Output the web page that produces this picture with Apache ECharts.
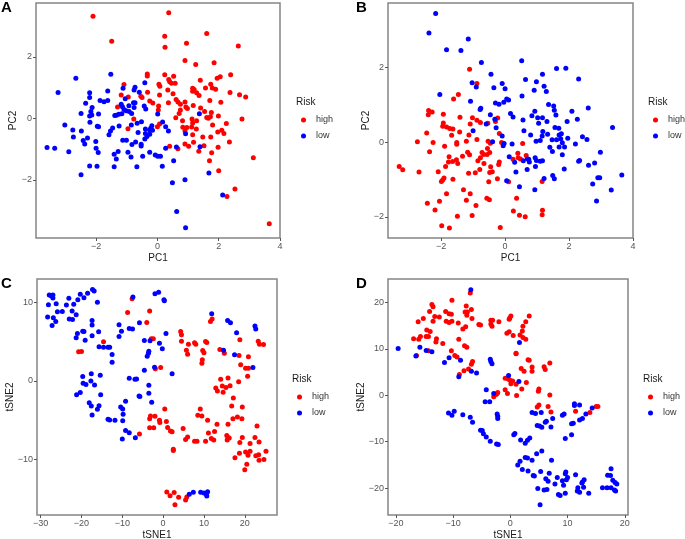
<!DOCTYPE html>
<html>
<head>
<meta charset="utf-8">
<style>html,body{margin:0;padding:0;background:#fff}#chart{width:685px;height:539px}</style>
<script src="https://cdn.jsdelivr.net/npm/echarts@6/dist/echarts.min.js"></script>
</head>
<body>
<div id="chart"></div>
<script>
// panel A, PCA
var aHigh = [[-2.10,3.32],[0.37,3.43],[-1.49,2.51],[0.24,2.67],[1.61,2.76],[0.95,2.44],[0.25,2.31],[2.64,2.35],[0.90,1.88],[1.25,1.75],[1.85,1.81],[-0.33,1.44],[-0.33,1.38],[0.24,1.42],[0.53,1.37],[2.39,1.42],[2.05,1.35],[1.95,1.30],[0.37,1.26],[0.40,1.19],[1.40,1.24],[0.46,1.14],[0.58,1.14],[-1.09,1.10],[0.05,1.11],[0.08,1.04],[1.74,1.11],[1.57,0.99],[1.79,0.99],[1.90,0.95],[1.15,0.98],[1.20,0.94],[1.15,0.88],[1.28,0.83],[1.36,0.74],[0.34,0.92],[0.51,0.80],[-0.32,0.85],[2.37,0.84],[2.68,0.77],[2.88,0.69],[-1.18,0.76],[-0.95,0.69],[-0.54,0.72],[-0.50,0.68],[0.07,0.76],[0.61,0.61],[1.71,0.58],[2.07,0.52],[-0.25,0.56],[-0.15,0.50],[0.36,0.51],[0.67,0.53],[0.75,0.46],[0.90,0.53],[1.17,0.42],[0.04,0.40],[-1.30,0.37],[0.03,0.27],[0.93,0.37],[0.98,0.32],[1.41,0.34],[0.75,0.27],[0.71,0.16],[1.54,0.22],[1.76,0.19],[1.73,0.05],[1.99,0.08],[0.60,0.02],[0.82,-0.08],[1.13,-0.02],[1.61,0.03],[1.66,0],[0.07,-0.18],[0,-0.27],[-0.77,-0.02],[-0.96,-0.34],[1.15,-0.15],[1.28,-0.08],[2.25,-0.17],[2.76,-0.02],[1.80,-0.22],[0.83,-0.29],[0.96,-0.30],[1.12,-0.28],[1.27,-0.35],[0.90,-0.41],[1.15,-0.53],[1.97,-0.44],[2.10,-0.39],[2.17,-0.49],[1.48,-0.61],[1.74,-0.61],[0.40,-0.91],[0.90,-0.83],[0.67,-0.99],[1.02,-0.91],[1.18,-0.78],[1.52,-0.89],[1.35,-1.07],[1.98,-0.94],[2.35,-0.77],[1.77,-1.12],[3.13,-1.28],[1.70,-1.38],[2.00,-1.70],[2.53,-2.30],[2.27,-2.54],[3.65,-3.43]];
var aLow = [[-1.52,1.43],[-2.66,1.30],[-3.24,0.84],[-2.21,0.83],[-2.21,0.68],[-1.62,0.89],[-1.12,0.98],[-0.73,1.01],[-0.76,0.92],[-0.41,1.16],[-0.59,0.85],[-1.05,0.64],[-1.87,0.58],[-1.74,0.54],[-1.62,0.58],[-2.34,0.49],[-0.78,0.51],[-0.73,0.51],[-1.18,0.46],[-1.14,0.38],[-0.93,0.41],[-0.76,0.35],[-0.43,0.40],[-0.38,0.30],[-2.13,0.35],[-2.17,0.22],[-2.49,0.16],[-2.14,0.11],[-2.21,0.08],[-1.92,0.14],[-1.09,0.29],[-1.02,0.25],[-0.92,0.22],[-0.84,0.16],[-1.16,0.15],[-1.26,0.13],[-1.34,0.10],[-1.39,0.09],[0.01,0.14],[1.37,0.15],[-0.52,-0.11],[-0.66,-0.16],[-0.85,-0.22],[-2.20,-0.13],[-3.02,-0.22],[-2.76,-0.38],[-1.96,-0.26],[-1.92,-0.27],[-2.48,-0.41],[-1.25,-0.25],[-1.46,-0.31],[-1.53,-0.41],[-1.58,-0.53],[-0.63,-0.46],[0.17,-0.12],[0.27,-0.27],[0.36,-0.41],[-0.18,-0.24],[-0.22,-0.32],[-0.39,-0.35],[-0.25,-0.39],[-0.16,-0.39],[-0.39,-0.49],[-0.25,-0.52],[-0.41,-0.67],[-0.34,-0.59],[0.92,-0.50],[-2.74,-0.61],[-2.28,-0.64],[-2.42,-0.72],[-2.37,-0.83],[-2.01,-0.75],[-1.13,-0.71],[-1.01,-0.71],[-0.71,-0.77],[-0.83,-0.85],[-0.53,-0.84],[-0.53,-0.90],[-3.60,-0.95],[-3.35,-0.97],[-2.00,-0.97],[-2.89,-1.09],[-1.93,-1.11],[-1.28,-1.08],[-1.41,-1.17],[-1.34,-1.32],[-0.96,-1.10],[-0.86,-1.26],[-0.25,-1.10],[-0.48,-1.23],[-0.07,-1.19],[0.01,-1.23],[0.10,-1.23],[0.27,-0.97],[0.62,-0.93],[1.39,-0.92],[-2.21,-1.55],[-1.97,-1.56],[-1.41,-1.57],[-0.67,-1.57],[0.16,-1.56],[0.53,-1.38],[-2.49,-1.83],[1.68,-1.78],[0.49,-2.09],[0.90,-2.00],[2.13,-2.49],[0.63,-3.03],[0.92,-3.56]];

// panel B, PCA
var bHigh = [[-1.11,1.94],[-0.88,1.56],[-1.46,1.27],[-1.61,1.15],[-2.39,0.84],[-2.28,0.80],[-2.40,0.73],[-1.93,0.74],[-1.41,0.66],[-1.02,0.65],[-0.23,0.64],[-0.88,0.58],[-0.77,0.52],[-0.30,0.55],[-1.93,0.51],[-1.09,0.48],[-0.54,0.50],[-1.95,0.42],[-1.83,0.40],[-1.73,0.36],[-1.63,0.35],[-1.42,0.27],[-2.45,0.24],[-1.67,0.18],[-1.13,0.19],[-0.18,0.23],[-0.88,0.07],[-2.74,0.01],[-2.25,-0.01],[-1.51,-0.01],[-1.51,-0.06],[-1.21,0.02],[-0.53,0.02],[-0.46,-0.03],[-0.11,-0.01],[0.55,-0.04],[-1.89,-0.11],[-0.55,-0.17],[-2.36,-0.26],[-1.17,-0.27],[-1.11,-0.34],[-1.33,-0.38],[-1.75,-0.39],[-0.72,-0.28],[-0.67,-0.33],[-0.56,-0.33],[-0.48,-0.28],[-0.77,-0.42],[-0.85,-0.50],[-1.77,-0.53],[-1.64,-0.52],[-1.52,-0.47],[-1.48,-0.57],[-0.66,-0.57],[-0.18,-0.53],[-0.20,-0.60],[0.40,-0.30],[0.25,-0.46],[0.41,-0.42],[0.48,-0.45],[0.66,-0.36],[-1.86,-0.65],[-3.31,-0.65],[-3.20,-0.74],[-2.69,-0.80],[-2.09,-0.79],[-0.45,-0.66],[-0.79,-0.73],[-0.40,-0.79],[-0.48,-0.81],[-1.14,-0.83],[-0.93,-0.82],[-1.91,-0.96],[-1.95,-1.01],[-1.99,-1.05],[-1.63,-0.99],[-0.24,-0.98],[-0.51,-1.06],[0.11,-1.06],[1.16,-1.05],[-1.30,-1.27],[-1.83,-1.38],[-1.09,-1.38],[-0.57,-1.50],[-0.49,-1.54],[0.36,-1.50],[-2.43,-1.63],[-2.05,-1.58],[-1.21,-1.55],[-0.91,-1.69],[-2.19,-1.81],[0.26,-1.84],[1.17,-1.82],[1.16,-1.94],[-1.03,-1.96],[0.45,-1.95],[-1.49,-1.98],[0.63,-1.99],[-1.98,-2.23],[-1.74,-2.29],[-0.15,-2.28]];
var bLow = [[-2.17,3.43],[-2.38,2.91],[-1.15,2.75],[-1.83,2.46],[-1.38,2.44],[-0.74,2.12],[0.52,2.17],[-0.44,1.81],[1.17,1.81],[1.61,1.96],[1.90,1.97],[2.30,1.68],[0.64,1.67],[0.98,1.61],[-1.03,1.58],[-0.90,1.47],[-0.35,1.45],[-0.09,1.56],[0,1.42],[1.22,1.49],[0.91,1.38],[1.29,1.35],[0.53,1.23],[-2.04,1.27],[-1.08,1.09],[0.05,1.15],[0.11,1.12],[-0.04,1.06],[-0.30,1.04],[-0.19,1.01],[-0.76,0.90],[-0.78,0.87],[1.36,1.00],[1.52,0.96],[1.54,0.85],[2.60,0.91],[2.09,0.82],[0.93,0.82],[-0.46,0.73],[0.17,0.76],[0.25,0.67],[0.84,0.70],[1.59,0.72],[1.02,0.65],[1.17,0.65],[-0.32,0.61],[0.56,0.59],[2.26,0.61],[1.31,0.55],[1.94,0.55],[1.05,0.50],[-0.59,0.48],[1.56,0.39],[1.68,0.37],[3.36,0.39],[-0.28,0.38],[-1.00,0.30],[0.59,0.30],[1.18,0.28],[0.80,0.19],[1.33,0.21],[1.16,0.16],[1.76,0.22],[1.69,0.19],[-0.09,0.16],[2.42,0.14],[1.96,0.10],[1.74,0.09],[1.47,0.06],[1.61,0.06],[2.56,0.07],[0.97,0.02],[1.10,0.04],[1.79,-0.02],[-0.39,0.01],[-0.03,-0.04],[-0.06,-0.10],[0.22,-0.05],[2.20,-0.05],[1.69,-0.13],[1.40,-0.14],[1.48,-0.25],[1.86,-0.13],[2.98,-0.27],[1.79,-0.34],[0.13,-0.39],[0.30,-0.54],[0.57,-0.50],[0.70,-0.45],[0.74,-0.46],[0.76,-0.53],[0.94,-0.42],[0.98,-0.49],[1.10,-0.51],[1.17,-0.50],[2.33,-0.49],[2.30,-0.51],[2.80,-0.56],[2.61,-0.62],[0.95,-0.65],[0.69,-0.73],[0.34,-0.80],[1.85,-0.72],[3.65,-0.88],[1.49,-0.89],[1.54,-0.98],[1.22,-0.97],[2.90,-0.95],[2.96,-0.95],[0.05,-1.03],[2.74,-1.12],[0.45,-1.19],[0.93,-1.27],[3.32,-1.28],[2.86,-1.57]];

// panel C, tSNE
var cHigh = [[-7.6,10.49],[-8.7,8.74],[-3.3,8.91],[-4.0,7.46],[11.6,7.59],[12.0,7.89],[4.3,6.31],[4.5,5.88],[4.5,5.07],[-2.9,5.37],[-2.4,5.37],[-14.6,4.99],[-20.7,3.71],[-20.0,3.75],[6.2,4.69],[7.7,4.86],[8.0,4.69],[10.4,5.03],[10.7,4.90],[5.7,3.92],[6.0,3.41],[9.7,3.88],[10.0,3.58],[9.6,2.69],[9.5,2.26],[13.9,4.01],[15.0,3.54],[18.8,5.25],[23.3,5.07],[23.6,4.69],[24.6,4.65],[18.6,3.24],[20.9,3.07],[19.0,2.05],[20.2,1.62],[20.9,1.62],[20.7,0.60],[-1.9,1.54],[-0.6,1.71],[14.1,0.21],[15.9,0.38],[18.5,-0.09],[12.9,-0.90],[13.3,-1.28],[14.5,-0.64],[14.7,-1.45],[15.4,-0.85],[16.4,-0.60],[17.2,-2.17],[16.8,-3.2],[19.4,-3.33],[9.1,-3.58],[0.4,-3.58],[8.5,-4.39],[9.5,-4.48],[-3.1,-4.48],[-3.3,-4.82],[-2.0,-4.52],[-0.9,-5.03],[-0.8,-5.29],[0.8,-5.16],[10.9,-5.03],[17.1,-4.82],[18.2,-4.6],[19.3,-4.82],[15.9,-5.54],[13.2,-5.54],[-3.3,-5.97],[-2.3,-5.97],[1.1,-5.93],[4.9,-6.06],[23.0,-5.76],[-5.8,-6.78],[1.8,-6.40],[2.2,-6.48],[12.6,-6.44],[11.1,-6.65],[15.6,-6.95],[15.9,-7.25],[16.2,-7.29],[15.7,-7.55],[19.4,-7.21],[22.5,-7.21],[6.0,-7.16],[5.5,-7.46],[11.8,-7.33],[12.4,-7.55],[7.7,-7.68],[8.3,-7.68],[10.4,-7.68],[18.8,-7.85],[23.5,-7.80],[21.3,-7.97],[2.5,-8.70],[2.5,-8.87],[21.3,-8.96],[20.2,-9.08],[25.2,-8.96],[18.7,-9.21],[20.8,-9.47],[23.4,-9.42],[22.7,-9.55],[17.6,-9.81],[23.5,-10.11],[24.7,-10.02],[20.5,-10.62],[20.0,-11.34],[0.9,-14.16],[2.7,-14.24],[1.7,-14.65],[3.8,-14.84],[5.8,-14.8],[5.5,-15.2],[2.9,-15.8]];
var cLow = [[-17.3,11.66],[-16.9,11.47],[-16.1,10.02],[-18.5,11.17],[-20.3,11.04],[-19.4,10.62],[-20.9,10.36],[-23.1,10.53],[-27.9,10.96],[-27.4,10.83],[-27.0,10.96],[-27.0,10.58],[-28.1,9.72],[-26.2,9.85],[-23.7,9.68],[-21.9,9.77],[-22.3,8.92],[-24.7,8.87],[-25.9,8.83],[-21.3,8.44],[-28.3,8.14],[-26.9,8.06],[-26.3,7.59],[-27.2,7.08],[-23.0,7.89],[-22.2,7.85],[-17.4,7.72],[-17.4,7.12],[-19.7,6.35],[-19.4,6.31],[-21.0,6.06],[-21.3,5.50],[-19.1,5.20],[-17.4,5.76],[-15.8,6.27],[-15.7,4.35],[-14.6,4.31],[-13.5,4.31],[-13.1,4.31],[-12.5,3.37],[-12.5,2.39],[-10.8,7.16],[-10.2,6.35],[-10.8,5.67],[-8.3,6.70],[-7.5,6.61],[-5.8,7.42],[-4.6,5.16],[-3.2,5.12],[-7.4,10.70],[-2.0,11.13],[-1.1,11.30],[0.2,10.36],[0.3,10.23],[0.7,6.06],[-0.9,4.82],[-0.2,4.09],[-3.5,3.80],[-3.6,3.54],[-3.9,3.16],[-4.6,1.36],[-2.1,1.75],[2.2,0.90],[11.9,8.57],[15.8,7.72],[16.5,7.42],[18.0,6.14],[22.5,7.0],[22.7,6.61],[14.8,3.92],[17.5,3.33],[22.0,1.71],[-17.6,0.90],[-15.4,0.72],[-19.7,0.55],[-17.7,0],[-19.6,-0.30],[-18.9,-0.47],[-16.8,-0.51],[-20.3,-1.49],[-21.2,-1.75],[-15.3,-1.75],[-8.3,0.34],[-6.9,0.21],[-6.5,0.26],[-3.5,-0.55],[-3.5,-1.58],[-5.9,-1.92],[-5.7,-2.0],[-9.2,-2.60],[-2.8,-2.73],[-18.1,-2.77],[-17.6,-3.2],[-15.7,-3.16],[-16.1,-3.62],[-10.4,-3.33],[-9.9,-3.58],[-9.8,-4.26],[-17.4,-4.35],[-13.5,-4.90],[-13.1,-4.99],[-11.8,-5.03],[-9.9,-5.07],[-9.2,-6.31],[-8.3,-6.61],[-10.0,-7.42],[-6.8,-7.25],[6.4,-14.46],[7.4,-14.2],[9.2,-14.2],[10.0,-14.29],[10.9,-14.12],[10.6,-14.46],[10.7,-14.67]];

// panel D, tSNE
var dHigh = [[-7.0,22.1],[-10.2,20.5],[-13.7,19.6],[-13.5,19.1],[-7.7,19.3],[-6.8,18.5],[-14.1,18.1],[-11.3,18.1],[-7.9,18.0],[-7.5,18.0],[-10.7,17.6],[-10.3,17.5],[-7.6,17.3],[-13.2,17.0],[-12.4,16.9],[-15.2,16.6],[-6.7,16.6],[3.3,17.1],[0.1,17.1],[-0.1,16.7],[-0.2,16.4],[-16.1,15.9],[-13.5,16.0],[-11.2,16.0],[-10.2,16.0],[-10.7,15.7],[-9.1,15.6],[-3.4,16.2],[-3.1,16.2],[-2.0,15.9],[2.7,15.9],[-3.4,15.4],[-3.2,14.9],[-5.5,15.3],[-5.2,15.2],[2.2,14.9],[-7.8,14.8],[-8.3,14.3],[-14.6,14.1],[-14.0,13.8],[2.1,13.9],[-0.2,13.7],[-0.6,13.4],[0.5,12.9],[1.7,13.0],[2.2,12.5],[2.7,12.1],[-14.7,12.7],[-14.3,12.7],[-15.7,12.7],[-16.9,12.2],[-16.0,12.1],[-12.9,12.2],[-13.0,11.5],[-9.0,12.1],[-11.8,11.2],[-8.0,10.7],[-7.6,10.4],[-14.3,9.6],[-10.3,9.6],[1.0,9.1],[1.0,9.0],[-9.7,8.6],[-9.3,8.3],[-16.4,8.6],[3.1,7.7],[3.3,7.6],[-6.6,7.3],[-6.8,6.7],[6.9,7.0],[3.8,6.1],[5.9,6.2],[6.1,5.6],[-7.3,5.7],[-8.1,5.3],[1.9,5.8],[2.4,5.2],[3.8,5.2],[-8.9,4.5],[-0.9,3.7],[-0.4,3.6],[-0.1,3.3],[0.4,3.1],[2.8,2.8],[0.1,2.5],[1.0,2.4],[2.0,1.4],[5.0,1.4],[4.9,0.9],[-0.9,1.2],[-0.5,0.4],[1.1,0],[-2.2,0.6],[-2.3,0.4],[-2.5,0.2],[-2.9,-0.3],[6.9,0.1],[5.0,-2.1],[4.7,-2.5],[6.6,-2.4],[7.1,-3.6],[11.4,-3.4],[13.9,-3.7],[15.0,-2.4],[15.3,-2.4]];
var dLow = [[-6.9,22.8],[-19.6,10.1],[-15.8,10.4],[-14.7,9.7],[-13.7,9.4],[-16.5,8.5],[-10.7,8.1],[-11.5,7.1],[-8.7,7.6],[-3.5,7.8],[-3.4,7.3],[-3.2,6.8],[1.6,11.4],[-6.8,5.2],[-5.9,4.8],[-9.0,4.0],[-0.3,4.3],[1.5,3.0],[-4.2,1.2],[-2.9,0.4],[-4.4,-1.4],[-3.6,-1.4],[-10.8,-3.8],[-9.8,-3.4],[-10.2,-4.3],[-8.3,-4.2],[-7.0,-4.7],[-6.6,-5.8],[-2.3,-4.0],[-2.2,-4.5],[-2.2,-5.0],[-5.2,-7.5],[-4.9,-7.6],[-4.7,-8.3],[-4.2,-9.0],[-3.5,-9.9],[-2.4,-10.5],[-2.1,-10.6],[0.6,-8.5],[0.8,-8.2],[3.8,-3.7],[4.4,-3.9],[5.4,-3.7],[11.2,-1.8],[11.2,-2.2],[12.1,-2.1],[14.3,-2.7],[13.2,-4.0],[12.6,-5.0],[12.1,-5.3],[9.4,-4.0],[9.1,-4.3],[7.4,-5.0],[6.3,-5.6],[6.1,-5.8],[11.0,-6.0],[10.7,-6.1],[4.7,-6.5],[5.1,-6.6],[5.5,-6.9],[7.1,-6.8],[10.7,-8.5],[9.6,-9.3],[1.8,-9.6],[3.4,-9.2],[3.0,-9.7],[2.6,-10.3],[5.5,-12.0],[4.6,-12.6],[2.6,-13.4],[3.0,-13.5],[3.8,-14.0],[7.2,-14.0],[1.7,-14.2],[1.3,-15.0],[2.1,-16.0],[3.1,-16.3],[4.0,-17.3],[4.2,-17.4],[5.3,-16.4],[6.8,-16.8],[9.7,-16.5],[9.6,-16.9],[11.4,-17.1],[17.6,-15.8],[17.0,-17.2],[17.5,-17.3],[6.2,-18.0],[6.6,-18.5],[8.2,-17.7],[10.0,-17.7],[9.8,-18.2],[9.1,-18.4],[12.9,-18.2],[12.6,-18.7],[12.5,-18.9],[17.9,-18.3],[18.3,-18.8],[18.6,-19.1],[7.8,-19.1],[9.3,-19.4],[4.8,-20.1],[5.9,-20.4],[6.4,-20.3],[11.8,-19.9],[12.8,-19.8],[16.1,-19.9],[16.9,-19.9],[17.6,-19.9],[18.2,-20.4],[18.4,-20.6],[11.7,-20.6],[12.1,-20.9],[13.7,-21.1],[9.6,-21.1],[8.4,-21.4],[8.7,-21.6],[5.2,-23.6]];

// tick labels
var pcaXTicks = [-2, 0, 2, 4];
var pcaYTicks = [-2, 0, 2];
var cXTicks = [-30, -20, -10, 0, 10, 20];
var cYTicks = [-10, 0, 10];
var dXTicks = [-20, -10, 0, 10, 20];
var dYTicks = [-20, -10, 0, 10, 20];
var riskLevels = ['high', 'low'];

// the panels, [left, top, width, height] of each plot box
var panels = [
	{ letter: 'A', box: [36, 3, 244, 235], xr: [-3.96, 4], yr: [-3.89, 3.75], xn: 'PC1', yn: 'PC2', xt: pcaXTicks, yt: pcaYTicks, high: aHigh, low: aLow, lx: 1, rx: 296, ry: 97, xGap: 15, yGap: 18 },
	{ letter: 'B', box: [388, 3, 245, 235], xr: [-3.66, 4], yr: [-2.56, 3.71], xn: 'PC1', yn: 'PC2', xt: pcaXTicks, yt: pcaYTicks, high: bHigh, low: bLow, lx: 356, rx: 648, ry: 97, xGap: 15, yGap: 17 },
	{ letter: 'C', box: [37, 279, 240, 236], xr: [-30.9, 27.9], yr: [-17.1, 13], xn: 'tSNE1', yn: 'tSNE2', xt: cXTicks, yt: cYTicks, high: cHigh, low: cLow, lx: 1, rx: 292, ry: 374, xGap: 15, yGap: 22 },
	{ letter: 'D', box: [388, 279, 240, 236], xr: [-21.37, 20.56], yr: [-25.8, 25.1], xn: 'tSNE1', yn: 'tSNE2', xt: dXTicks, yt: dYTicks, high: dHigh, low: dLow, lx: 356, rx: 643, ry: 374, xGap: 15, yGap: 22 }
];

var fontName = '"Liberation Sans", Arial, sans-serif';

function fmt(v) {
	return String(v).replace('-', '\u2212');
}

function axisOf(range, name, ticks, idx, gap) {
	return {
		type: 'value',
		gridIndex: idx,
		min: range[0],
		max: range[1],
		name: name,
		nameLocation: 'middle',
		nameGap: gap,
		nameMoveOverlap: false,
		nameTextStyle: { color: '#1a1a1a', fontSize: 10, fontFamily: fontName },
		splitLine: { show: false },
		axisLine: { show: false, onZero: false },
		axisTick: { show: true, length: 3, customValues: ticks, lineStyle: { color: '#555', width: 1 } },
		axisLabel: { color: '#555', fontSize: 9, margin: 4, fontFamily: fontName, customValues: ticks, formatter: fmt, hideOverlap: false }
	};
}

var option = {
	backgroundColor: '#fff',
	animation: false,
	grid: [],
	xAxis: [],
	yAxis: [],
	series: [],
	title: [],
	legend: []
};

panels.forEach(function (p, i) {
	option.grid.push({
		left: p.box[0], top: p.box[1], width: p.box[2], height: p.box[3],
		outerBoundsMode: 'none',
		show: true, borderColor: '#858585', borderWidth: 1.5, backgroundColor: '#fff'
	});
	option.xAxis.push(axisOf(p.xr, p.xn, p.xt, i, p.xGap));
	option.yAxis.push(axisOf(p.yr, p.yn, p.yt, i, p.yGap));
	riskLevels.forEach(function (r) {
		option.series.push({
			name: r,
			type: 'scatter',
			xAxisIndex: i,
			yAxisIndex: i,
			symbolSize: 5,
			itemStyle: { color: r === 'high' ? '#ff0000' : '#0000ff', opacity: 1 },
			data: r === 'high' ? p.high : p.low
		});
	});
	option.title.push({
		text: p.letter, left: p.lx, top: p.box[1] - 3,
		padding: 0,
		textStyle: { fontSize: 15, fontWeight: 'bold', color: '#000', fontFamily: fontName }
	});
	option.title.push({
		text: 'Risk', left: p.rx, top: p.ry,
		padding: 0,
		textStyle: { fontSize: 10, fontWeight: 'normal', color: '#1a1a1a', fontFamily: fontName }
	});
	option.legend.push({
		orient: 'vertical', left: p.rx + 5, top: p.ry + 18.5, padding: 0,
		selectedMode: false, icon: 'circle',
		itemWidth: 5, itemHeight: 5, itemGap: 7, align: 'left',
		textStyle: { fontSize: 9, color: '#333', fontFamily: fontName, padding: [0, 0, 0, 5] },
		data: riskLevels
	});
});

var myChart = echarts.init(document.getElementById('chart'));
myChart.setOption(option);
</script>
</body>
</html>
